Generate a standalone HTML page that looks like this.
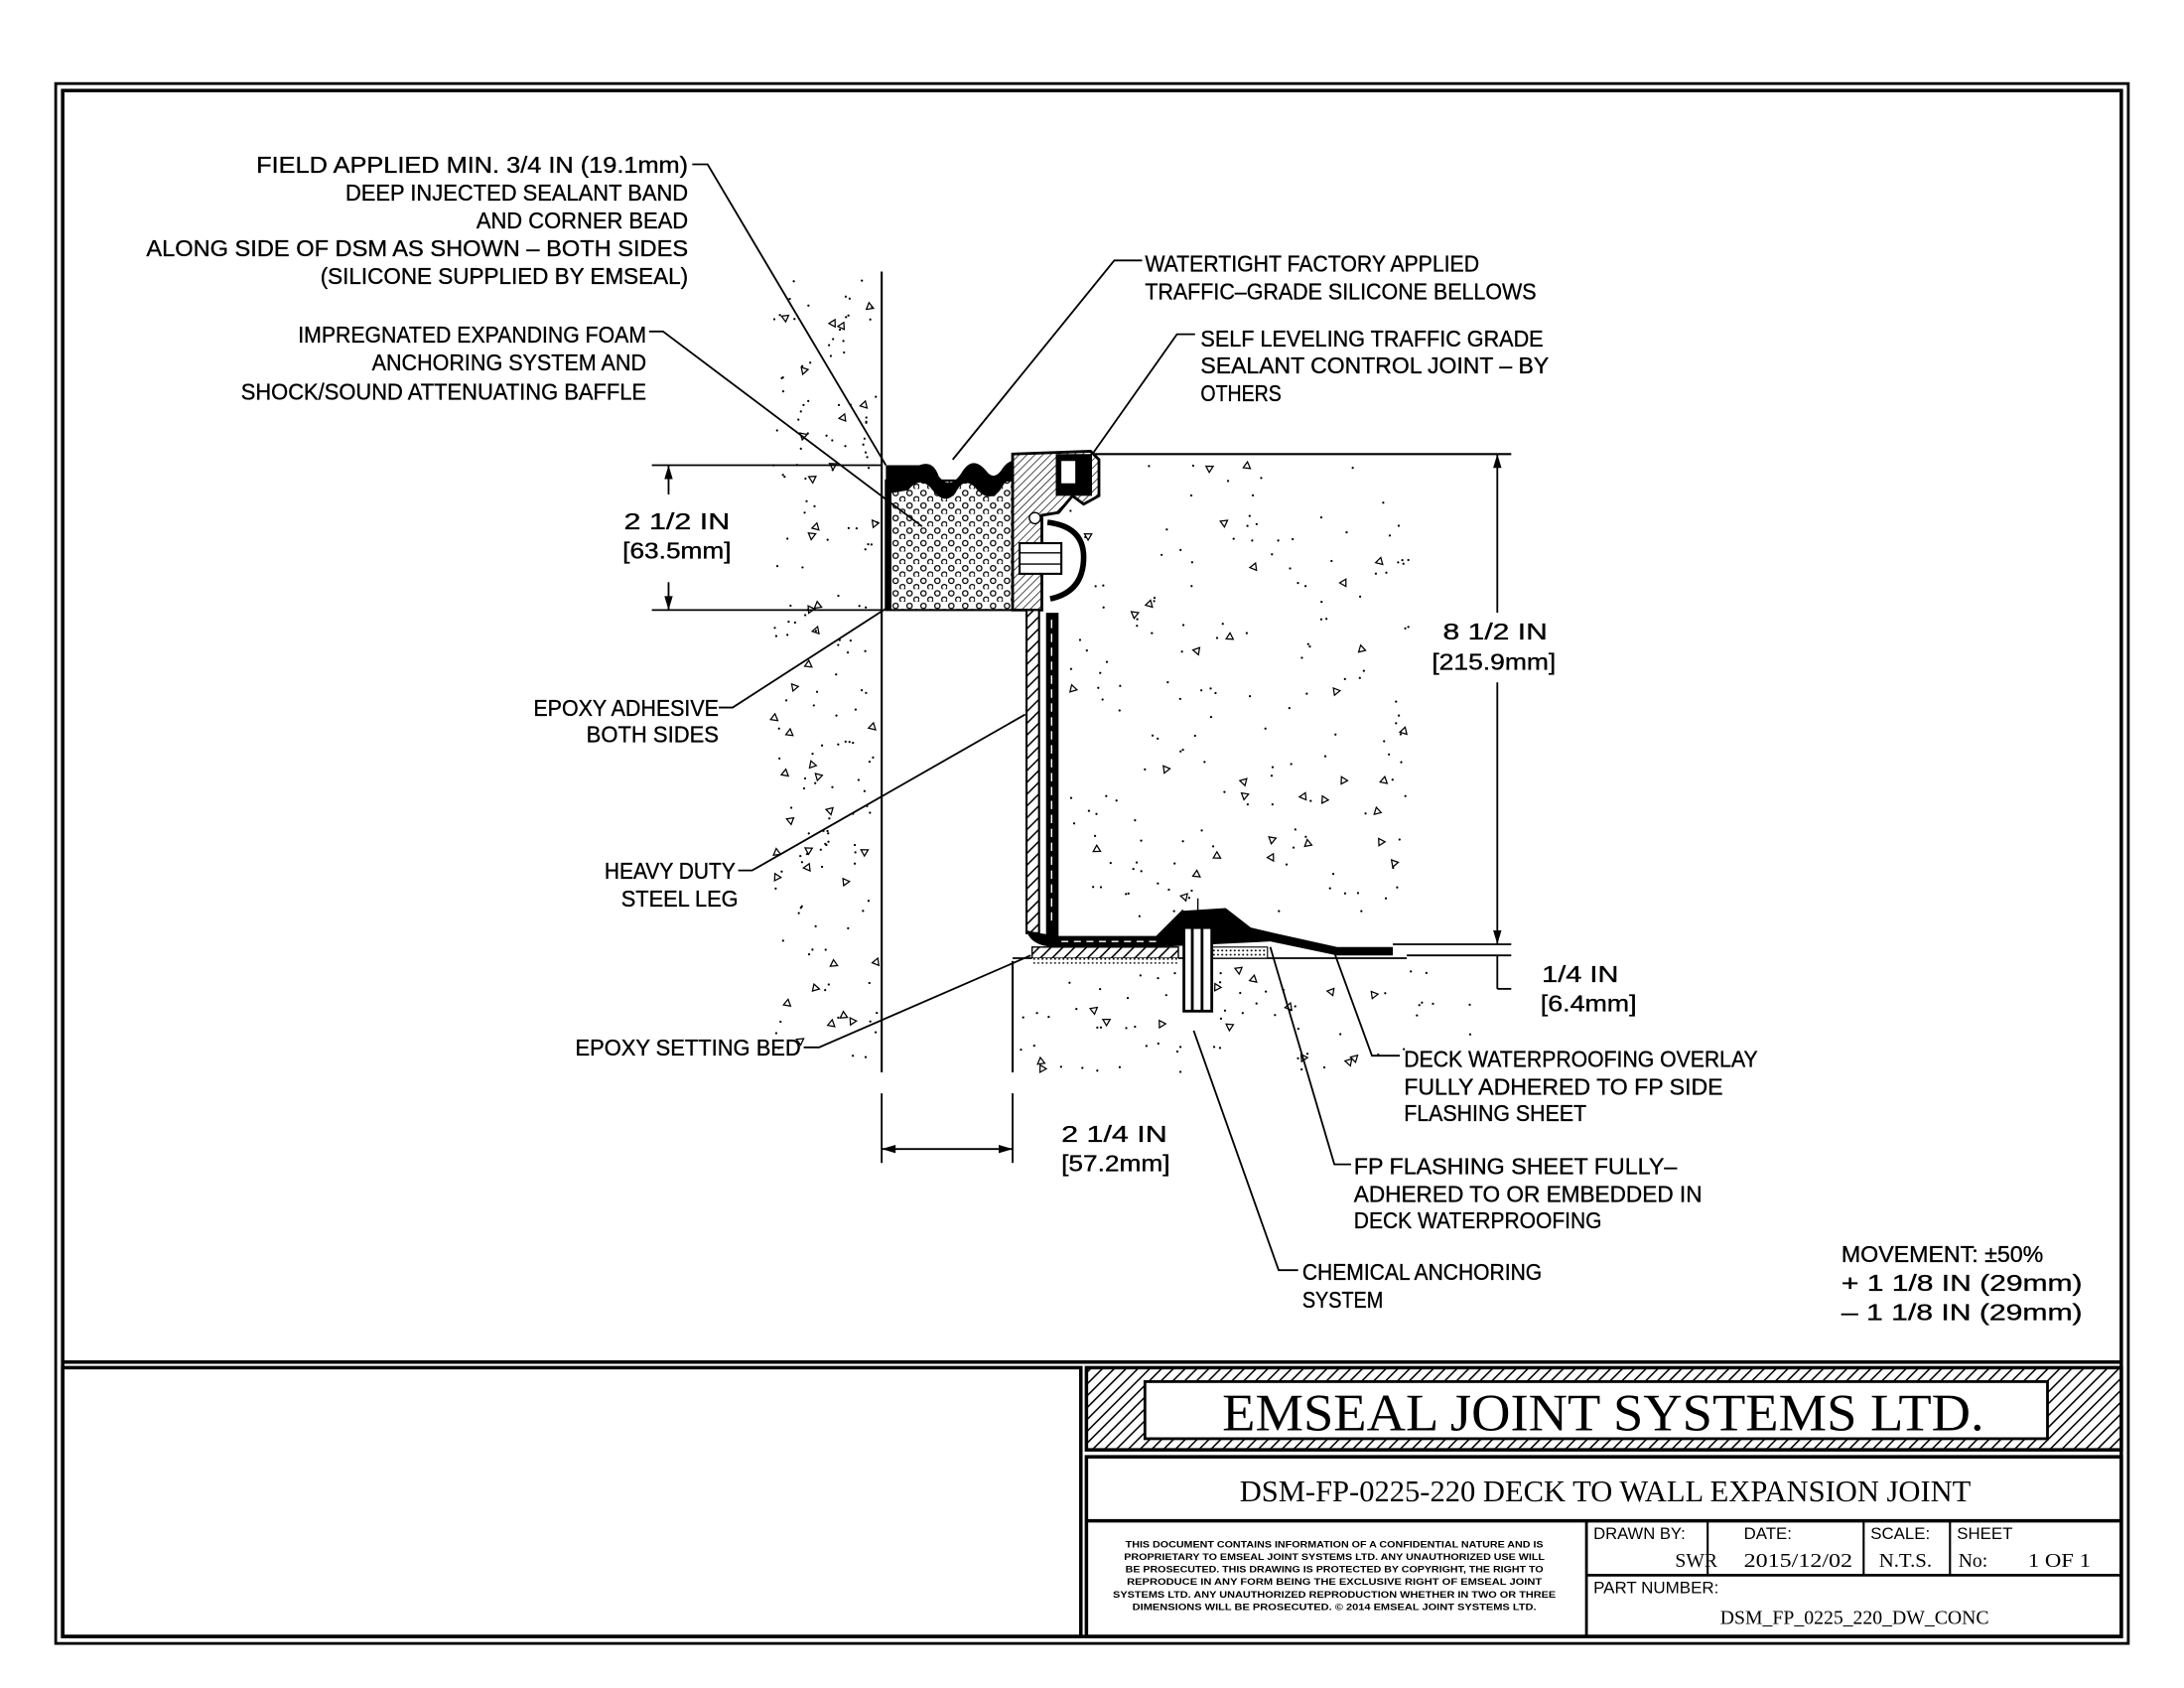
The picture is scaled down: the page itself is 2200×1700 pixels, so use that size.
<!DOCTYPE html>
<html><head><meta charset="utf-8"><style>
html,body{margin:0;padding:0;background:#fff;}
svg{display:block;}
text{font-family:"Liberation Sans",sans-serif;fill:#000;}
.t{font-size:16.5px;stroke:#000;stroke-width:0.25px;}
.s{font-family:"Liberation Serif",serif;}
</style></head><body>
<svg id="sv" width="2200" height="1700" viewBox="0 0 1568 1212" preserveAspectRatio="none" xmlns="http://www.w3.org/2000/svg">
<defs>
<pattern id="hatch" width="6" height="6" patternUnits="userSpaceOnUse" patternTransform="rotate(45)"><rect width="6" height="6" fill="#fff"/><line x1="0" y1="0" x2="0" y2="6" stroke="#000" stroke-width="2.2"/></pattern>
<pattern id="hatchF" width="4" height="4" patternUnits="userSpaceOnUse" patternTransform="rotate(45)"><rect width="4" height="4" fill="#fff"/><line x1="0" y1="0" x2="0" y2="4" stroke="#000" stroke-width="1"/></pattern>
<pattern id="circ" width="10" height="9" patternUnits="userSpaceOnUse"><rect width="10" height="9" fill="#fff"/><circle cx="3" cy="3" r="1.9" fill="none" stroke="#000" stroke-width="0.9"/><circle cx="8" cy="7.5" r="1.9" fill="none" stroke="#000" stroke-width="0.9"/></pattern>
<pattern id="dots" width="3" height="3" patternUnits="userSpaceOnUse"><rect width="3" height="3" fill="#fff"/><circle cx="1.5" cy="1.5" r="0.7" fill="#000"/></pattern>
</defs>
<rect width="1568" height="1212" fill="#fff"/>
<rect x="40" y="60" width="1488" height="1120" fill="none" stroke="#000" stroke-width="2"/>
<rect x="45" y="65" width="1478" height="1110" fill="none" stroke="#000" stroke-width="2.5"/>
<line x1="45" y1="978" x2="1523" y2="978" stroke="#000" stroke-width="2.5"/>
<line x1="45" y1="982" x2="776" y2="982" stroke="#000" stroke-width="2"/>
<rect x="45" y="982" width="731" height="193" fill="none" stroke="#000" stroke-width="2.5"/>
<rect x="780" y="982" width="743" height="59" fill="url(#hatch)" stroke="#000" stroke-width="2.5"/>
<rect x="822" y="992" width="648" height="41" fill="#fff" stroke="#000" stroke-width="2"/>
<text class="s" x="1151" y="1027" font-size="38" text-anchor="middle" textLength="547" lengthAdjust="spacingAndGlyphs">EMSEAL JOINT SYSTEMS LTD.</text>
<rect x="780" y="1046" width="743" height="129" fill="none" stroke="#000" stroke-width="2.5"/>
<line x1="780" y1="1092" x2="1523" y2="1092" stroke="#000" stroke-width="2.5"/>
<text class="s" x="890" y="1078" font-size="22" textLength="525" lengthAdjust="spacingAndGlyphs">DSM-FP-0225-220 DECK TO WALL EXPANSION JOINT</text>
<line x1="1139" y1="1092" x2="1139" y2="1175" stroke="#000" stroke-width="2"/>
<line x1="1139" y1="1131" x2="1523" y2="1131" stroke="#000" stroke-width="2"/>
<line x1="1226" y1="1092" x2="1226" y2="1131" stroke="#000" stroke-width="1.5"/>
<line x1="1338" y1="1092" x2="1338" y2="1131" stroke="#000" stroke-width="1.5"/>
<line x1="1400" y1="1092" x2="1400" y2="1131" stroke="#000" stroke-width="1.5"/>
<g font-size="6.6" text-anchor="middle" font-weight="bold">
<text x="958" y="1111" textLength="300" lengthAdjust="spacingAndGlyphs">THIS DOCUMENT CONTAINS INFORMATION OF A CONFIDENTIAL NATURE AND IS</text>
<text x="958" y="1120" textLength="302" lengthAdjust="spacingAndGlyphs">PROPRIETARY TO EMSEAL JOINT SYSTEMS LTD. ANY UNAUTHORIZED USE WILL</text>
<text x="958" y="1129" textLength="300" lengthAdjust="spacingAndGlyphs">BE PROSECUTED. THIS DRAWING IS PROTECTED BY COPYRIGHT, THE RIGHT TO</text>
<text x="958" y="1138" textLength="298" lengthAdjust="spacingAndGlyphs">REPRODUCE IN ANY FORM BEING THE EXCLUSIVE RIGHT OF EMSEAL JOINT</text>
<text x="958" y="1147" textLength="318" lengthAdjust="spacingAndGlyphs">SYSTEMS LTD. ANY UNAUTHORIZED REPRODUCTION WHETHER IN TWO OR THREE</text>
<text x="958" y="1156" textLength="290" lengthAdjust="spacingAndGlyphs">DIMENSIONS WILL BE PROSECUTED. © 2014 EMSEAL JOINT SYSTEMS LTD.</text>
</g>
<g font-size="12">
<text x="1144" y="1105" textLength="66" lengthAdjust="spacingAndGlyphs">DRAWN BY:</text>
<text class="s" x="1233" y="1125" text-anchor="end" font-size="14">SWR</text>
<text x="1252" y="1105">DATE:</text>
<text class="s" x="1252" y="1125" font-size="14" textLength="78" lengthAdjust="spacingAndGlyphs">2015/12/02</text>
<text x="1343" y="1105">SCALE:</text>
<text class="s" x="1349" y="1125" font-size="14" textLength="38" lengthAdjust="spacingAndGlyphs">N.T.S.</text>
<text x="1405" y="1105">SHEET</text>
<text class="s" x="1406" y="1125" font-size="14">No:</text>
<text class="s" x="1456" y="1125" font-size="14" textLength="45" lengthAdjust="spacingAndGlyphs">1 OF 1</text>
<text x="1144" y="1144" textLength="90" lengthAdjust="spacingAndGlyphs">PART NUMBER:</text>
<text class="s" x="1235" y="1166" font-size="14" textLength="193" lengthAdjust="spacingAndGlyphs">DSM_FP_0225_220_DW_CONC</text>
</g>

<g id="stip" fill="#000"></g>

<line x1="633" y1="195" x2="633" y2="770" stroke="#000" stroke-width="1.5"/>
<line x1="727" y1="690" x2="727" y2="770" stroke="#000" stroke-width="1.5"/>
<line x1="785" y1="326" x2="1085" y2="326" stroke="#000" stroke-width="1.5"/>
<line x1="1000" y1="678" x2="1085" y2="678" stroke="#000" stroke-width="1.3"/>
<line x1="1010" y1="686" x2="1085" y2="686" stroke="#000" stroke-width="1.3"/>
<line x1="727" y1="688" x2="1010" y2="688" stroke="#000" stroke-width="1.3"/>

<rect x="636" y="345" width="91" height="93" fill="url(#circ)" stroke="#000" stroke-width="1.5"/>
<path d="M636,334 L660,334 Q670,330 674,342 Q682,352 690,340 Q698,326 708,338 Q714,346 720,336 Q724,330 732,330 L732,348 Q724,340 718,352 Q710,362 700,350 Q692,342 686,354 Q678,364 668,350 Q660,342 652,352 L640,354 L640,438 L636,438 Z" fill="#000"/>
<path d="M727,326 L783,324 L789,330 L789,356 L778,362 L770,356 L760,368 L748,370 L748,438 L727,438 Z" fill="url(#hatchF)" stroke="#000" stroke-width="2"/>
<rect x="758" y="326" width="26" height="30" fill="#000"/>
<rect x="762" y="331" width="10" height="16" fill="#fff"/>
<path d="M752,375 Q778,378 778,400 Q778,425 754,430" fill="none" stroke="#000" stroke-width="4"/>
<rect x="732" y="390" width="30" height="22" fill="#fff" stroke="#000" stroke-width="1.5"/>
<line x1="732" y1="397" x2="762" y2="397" stroke="#000"/><line x1="732" y1="405" x2="762" y2="405" stroke="#000"/>
<circle cx="743" cy="372" r="4" fill="#fff" stroke="#000"/>
<rect x="737" y="438" width="9" height="232" fill="url(#hatch)" stroke="#000" stroke-width="1.5"/>
<rect x="751" y="440" width="9" height="232" fill="#000"/>
<line x1="755" y1="445" x2="755" y2="665" stroke="#fff" stroke-width="1" stroke-dasharray="6,4"/>
<path d="M746,670 L760,672 L830,672 L848,654 L880,652 L898,666 L915,670 L960,680 L1000,680 L1000,686 L960,686 L912,676 L830,680 L760,680 Q740,680 737,668 Z" fill="#000"/>
<line x1="762" y1="676" x2="830" y2="676" stroke="#fff" stroke-width="1" stroke-dasharray="5,4"/>
<rect x="741" y="680" width="105" height="8" fill="url(#hatch)" stroke="#000" stroke-width="1"/>
<rect x="741" y="688" width="105" height="4" fill="url(#dots)"/>
<rect x="870" y="680" width="40" height="8" fill="url(#dots)" stroke="#000" stroke-width="0.8"/>
<rect x="850" y="666" width="20" height="60" fill="#fff" stroke="#000" stroke-width="2"/>
<line x1="856" y1="666" x2="856" y2="726" stroke="#000" stroke-width="2"/>
<line x1="863" y1="666" x2="863" y2="726" stroke="#000" stroke-width="2"/>
<line x1="860" y1="645" x2="860" y2="660" stroke="#000"/>

<g stroke="#000" stroke-width="1.3" fill="none">
<line x1="468" y1="334" x2="633" y2="334"/><line x1="468" y1="438" x2="633" y2="438"/>
<line x1="480" y1="334" x2="480" y2="355"/><line x1="480" y1="418" x2="480" y2="438"/>
<line x1="1075" y1="326" x2="1075" y2="440"/><line x1="1075" y1="490" x2="1075" y2="678"/>
<line x1="1075" y1="686" x2="1075" y2="710"/><line x1="1075" y1="710" x2="1085" y2="710"/>
<line x1="633" y1="785" x2="633" y2="835"/><line x1="727" y1="785" x2="727" y2="835"/>
<line x1="633" y1="825" x2="727" y2="825"/>
<polyline points="497,118 508,118 636,334"/>
<polyline points="466,238 476,238 662,378"/>
<polyline points="820,187 800,187 684,330"/>
<polyline points="858,240 845,240 785,325"/>
<polyline points="516,508 526,508 636,437"/>
<polyline points="530,625 540,625 736,513"/>
<polyline points="577,752 588,752 740,686"/>
<polyline points="1005,758 985,758 958,684"/>
<polyline points="970,836 958,836 912,680"/>
<polyline points="932,912 918,912 857,740"/>
</g>
<g fill="#000">
<path d="M480,334 l-3,10 l6,0 Z"/><path d="M480,438 l-3,-10 l6,0 Z"/>
<path d="M1075,326 l-3,10 l6,0 Z"/><path d="M1075,678 l-3,-10 l6,0 Z"/>
<path d="M633,825 l10,-3 l0,6 Z"/><path d="M727,825 l-10,-3 l0,6 Z"/>
</g>

<g class="t">
<text x="494" y="124" text-anchor="end" textLength="310" lengthAdjust="spacingAndGlyphs">FIELD APPLIED MIN. 3/4 IN (19.1mm)</text>
<text x="494" y="144" text-anchor="end" textLength="246" lengthAdjust="spacingAndGlyphs">DEEP INJECTED SEALANT BAND</text>
<text x="494" y="164" text-anchor="end" textLength="152" lengthAdjust="spacingAndGlyphs">AND CORNER BEAD</text>
<text x="494" y="184" text-anchor="end" textLength="389" lengthAdjust="spacingAndGlyphs">ALONG SIDE OF DSM AS SHOWN – BOTH SIDES</text>
<text x="494" y="204" text-anchor="end" textLength="264" lengthAdjust="spacingAndGlyphs">(SILICONE SUPPLIED BY EMSEAL)</text>
<text x="464" y="246" text-anchor="end" textLength="250" lengthAdjust="spacingAndGlyphs">IMPREGNATED EXPANDING FOAM</text>
<text x="464" y="266" text-anchor="end" textLength="197" lengthAdjust="spacingAndGlyphs">ANCHORING SYSTEM AND</text>
<text x="464" y="287" text-anchor="end" textLength="291" lengthAdjust="spacingAndGlyphs">SHOCK/SOUND ATTENUATING BAFFLE</text>
<text x="822" y="195" textLength="240" lengthAdjust="spacingAndGlyphs">WATERTIGHT FACTORY APPLIED</text>
<text x="822" y="215" textLength="281" lengthAdjust="spacingAndGlyphs">TRAFFIC–GRADE SILICONE BELLOWS</text>
<text x="862" y="249" textLength="246" lengthAdjust="spacingAndGlyphs">SELF LEVELING TRAFFIC GRADE</text>
<text x="862" y="268" textLength="250" lengthAdjust="spacingAndGlyphs">SEALANT CONTROL JOINT – BY</text>
<text x="862" y="288" textLength="58" lengthAdjust="spacingAndGlyphs">OTHERS</text>
<text x="448" y="380" textLength="76" lengthAdjust="spacingAndGlyphs">2 1/2 IN</text>
<text x="447" y="401" textLength="78" lengthAdjust="spacingAndGlyphs">[63.5mm]</text>
<text x="1036" y="459" textLength="75" lengthAdjust="spacingAndGlyphs">8 1/2 IN</text>
<text x="1028" y="481" textLength="89" lengthAdjust="spacingAndGlyphs">[215.9mm]</text>
<text x="516" y="514" text-anchor="end" textLength="133" lengthAdjust="spacingAndGlyphs">EPOXY ADHESIVE</text>
<text x="516" y="533" text-anchor="end" textLength="95" lengthAdjust="spacingAndGlyphs">BOTH SIDES</text>
<text x="528" y="631" text-anchor="end" textLength="94" lengthAdjust="spacingAndGlyphs">HEAVY DUTY</text>
<text x="530" y="651" text-anchor="end" textLength="84" lengthAdjust="spacingAndGlyphs">STEEL LEG</text>
<text x="575" y="758" text-anchor="end" textLength="162" lengthAdjust="spacingAndGlyphs">EPOXY SETTING BED</text>
<text x="1107" y="705" textLength="55" lengthAdjust="spacingAndGlyphs">1/4 IN</text>
<text x="1106" y="726" textLength="69" lengthAdjust="spacingAndGlyphs">[6.4mm]</text>
<text x="762" y="820" textLength="76" lengthAdjust="spacingAndGlyphs">2 1/4 IN</text>
<text x="762" y="841" textLength="78" lengthAdjust="spacingAndGlyphs">[57.2mm]</text>
<text x="1008" y="766" textLength="254" lengthAdjust="spacingAndGlyphs">DECK WATERPROOFING OVERLAY</text>
<text x="1008" y="786" textLength="229" lengthAdjust="spacingAndGlyphs">FULLY ADHERED TO FP SIDE</text>
<text x="1008" y="805" textLength="131" lengthAdjust="spacingAndGlyphs">FLASHING SHEET</text>
<text x="972" y="843" textLength="232" lengthAdjust="spacingAndGlyphs">FP FLASHING SHEET FULLY–</text>
<text x="972" y="863" textLength="250" lengthAdjust="spacingAndGlyphs">ADHERED TO OR EMBEDDED IN</text>
<text x="972" y="882" textLength="178" lengthAdjust="spacingAndGlyphs">DECK WATERPROOFING</text>
<text x="935" y="919" textLength="172" lengthAdjust="spacingAndGlyphs">CHEMICAL ANCHORING</text>
<text x="935" y="939" textLength="58" lengthAdjust="spacingAndGlyphs">SYSTEM</text>
<text x="1322" y="906" textLength="145" lengthAdjust="spacingAndGlyphs">MOVEMENT: ±50%</text>
<text x="1322" y="927" textLength="173" lengthAdjust="spacingAndGlyphs">+ 1 1/8 IN (29mm)</text>
<text x="1322" y="948" textLength="173" lengthAdjust="spacingAndGlyphs">– 1 1/8 IN (29mm)</text>
</g>
</svg>
<script>
try{
(function(){
var s=12345;function r(){s=(s*16807)%2147483647;return s/2147483647;}
var NS='http://www.w3.org/2000/svg';
var g=document.getElementById('stip');
function el(n,a){var e=document.createElementNS(NS,n);for(var k in a){e.setAttribute(k,a[k]);}g.appendChild(e);}
function reg(x0,x1,y0,y1,nd,nt){
 var i,j,x,y,a,p;
 for(i=0;i<nd;i++){x=x0+r()*(x1-x0);y=y0+r()*(y1-y0);el('circle',{cx:x.toFixed(1),cy:y.toFixed(1),r:'0.8'});}
 for(i=0;i<nt;i++){x=x0+r()*(x1-x0);y=y0+r()*(y1-y0);a=r()*6.28;p=[];
  for(j=0;j<3;j++){p.push((x+3*Math.cos(a+j*2.094)).toFixed(1)+','+(y+3*Math.sin(a+j*2.094)).toFixed(1));}
  el('polygon',{points:p.join(' '),fill:'none',stroke:'#000','stroke-width':'0.9'});}
}
reg(555,630,200,770,150,40);
reg(768,1015,332,668,150,32);
reg(732,1060,694,770,60,16);
})();
}catch(e){}
</script>
</body></html>
